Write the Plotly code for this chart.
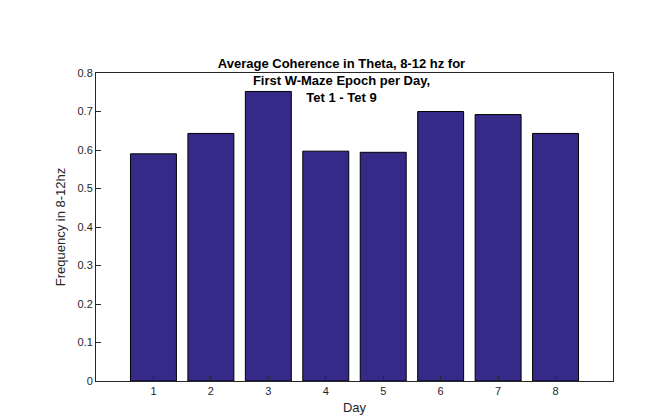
import plotly.graph_objects as go

days = [1, 2, 3, 4, 5, 6, 7, 8]
coherence = [0.590, 0.643, 0.752, 0.597, 0.594, 0.700, 0.692, 0.643]
ytick_vals = [0, 0.1, 0.2, 0.3, 0.4, 0.5, 0.6, 0.7, 0.8]
ytick_text = ["0", "0.1", "0.2", "0.3", "0.4", "0.5", "0.6", "0.7", "0.8"]

fig = go.Figure(go.Bar(x=days, y=coherence, width=0.8,
                       marker=dict(color="#352a87", line=dict(color="black", width=1))))

ax = dict(showline=True, linecolor="#262626", linewidth=1, mirror=True, ticks="inside",
          ticklen=5, tickcolor="#262626", showgrid=False, zeroline=False,
          tickfont=dict(size=11, color="#262626"))
fig.update_xaxes(range=[0, 9], tickvals=days, title=dict(text="Day", font=dict(size=13), standoff=6), **ax)
fig.update_yaxes(range=[0, 0.8], tickvals=ytick_vals, ticktext=ytick_text,
                 title=dict(text="Frequency in 8-12hz", font=dict(size=13), standoff=8), **ax)
fig.update_layout(
    width=667, height=419, plot_bgcolor="white", paper_bgcolor="white",
    margin=dict(l=88, r=62, t=65, b=46),
    font=dict(family="Arial, Liberation Sans", color="#262626"),
    title=dict(text="<b>Average Coherence in Theta, 8-12 hz for<br>First W-Maze Epoch per Day,<br>Tet 1 - Tet 9</b>",
               x=0.5, xanchor="center", yref="paper", y=1, yanchor="bottom",
               pad=dict(b=5), font=dict(size=13, color="black")),
)
fig.write_html("out.html")
